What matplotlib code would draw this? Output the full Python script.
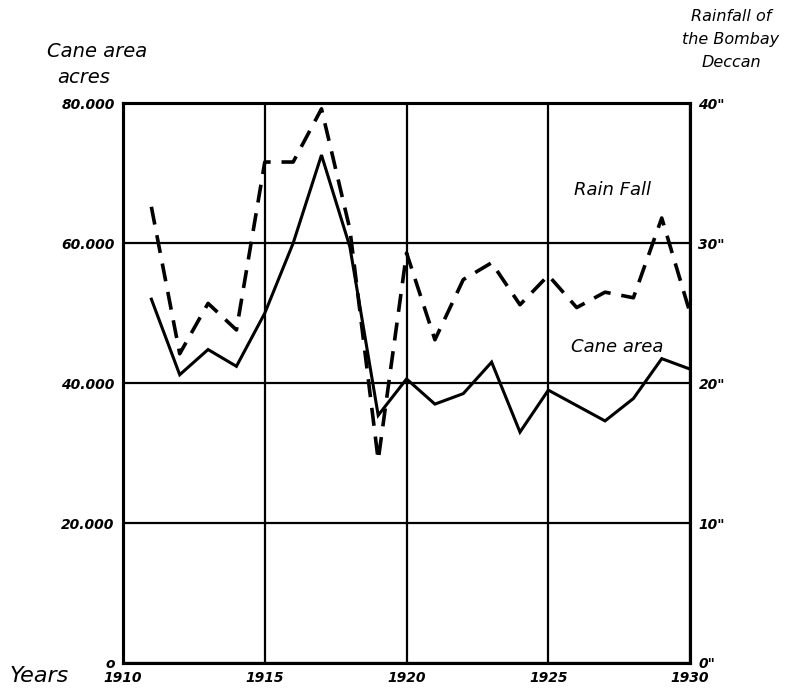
import numpy as np
import matplotlib.pyplot as plt

years = [1911, 1912, 1913, 1914, 1915, 1916, 1917, 1918, 1919, 1920,
         1921, 1922, 1923, 1924, 1925, 1926, 1927, 1928, 1929, 1930]
cane_area = [52000, 41200, 44800, 42400, 50000, 60000, 72600, 59500, 35400, 40600,
             37000, 38500, 43000, 33000, 39000, 36800, 34600, 37800, 43500, 42000]
rainfall = [32.6, 22.1, 25.7, 23.8, 35.8, 35.8, 39.6, 31.0, 14.5, 29.3,
            23.1, 27.4, 28.6, 25.6, 27.7, 25.4, 26.5, 26.1, 31.8, 25.0]

left_ticks = [0, 20000, 40000, 60000, 80000]
left_labels = ['o', '20.000', '40.000', '60.000', '80.000']
right_ticks = [0, 10, 20, 30, 40]
right_labels = ['0"', '10"', '20"', '30"', '40"']
year_ticks = [1910, 1915, 1920, 1925, 1930]

fig = plt.figure(figsize=(7.86, 6.93), dpi=100)
ax = fig.add_axes([0.1565, 0.0433, 0.7215, 0.8077])
ax2 = ax.twinx()

ax.plot(years, cane_area, color='black', lw=2.2, solid_joinstyle='miter')
ax2.plot(years, rainfall, color='black', lw=2.6, dashes=(5, 3))

ax.set_xlim(1910, 1930)
ax.set_ylim(0, 80000)
ax2.set_ylim(0, 40)

ax.set_xticks(year_ticks)
ax.set_xticklabels([str(y) for y in year_ticks], fontstyle='italic',
                   fontweight='bold', fontsize=10)
ax.set_yticks(left_ticks)
ax.set_yticklabels(left_labels, fontstyle='italic', fontweight='bold', fontsize=10)
ax2.set_yticks(right_ticks)
ax2.set_yticklabels(right_labels, fontstyle='italic', fontweight='bold', fontsize=10)

ax.tick_params(length=0, pad=6)
ax2.tick_params(length=0, pad=6)
ax.grid(True, color='black', lw=1.6)
for a in (ax, ax2):
    for s in a.spines.values():
        s.set_linewidth(2.2)
        s.set_color('black')

# line labels inside the plot
ax.text(0.864, 0.845, 'Rain Fall', transform=ax.transAxes, fontsize=13,
        fontstyle='italic', ha='center', va='center')
ax.text(0.871, 0.564, 'Cane area', transform=ax.transAxes, fontsize=13,
        fontstyle='italic', ha='center', va='center')

fig.text(0.124, 0.925, 'Cane area', fontsize=14, fontstyle='italic', ha='center', va='center')
fig.text(0.107, 0.888, 'acres', fontsize=14, fontstyle='italic', ha='center', va='center')
fig.text(0.93, 0.976, 'Rainfall of', fontsize=11.5, fontstyle='italic', ha='center', va='center')
fig.text(0.93, 0.943, 'the Bombay', fontsize=11.5, fontstyle='italic', ha='center', va='center')
fig.text(0.93, 0.910, 'Deccan', fontsize=11.5, fontstyle='italic', ha='center', va='center')
fig.text(0.05, 0.025, 'Years', fontsize=16, fontstyle='italic', ha='center', va='center')

fig.savefig('out.png', dpi=100)
